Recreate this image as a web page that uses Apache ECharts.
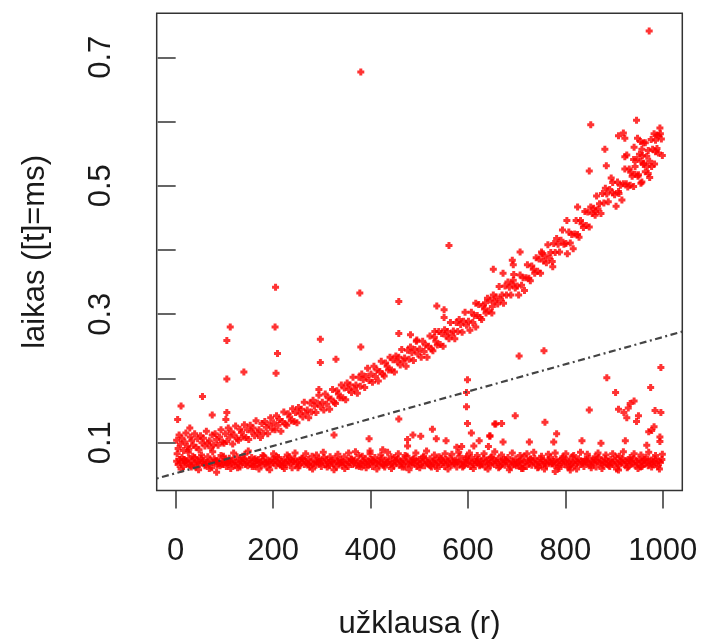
<!DOCTYPE html>
<html>
<head>
<meta charset="utf-8">
<script src="https://cdn.jsdelivr.net/npm/echarts@6/dist/echarts.min.js"></script>
<style>
  html, body { margin: 0; padding: 0; background: #ffffff; }
  #chart { width: 701px; height: 639px; }
</style>
</head>
<body>
<div id="chart"></div>
<script>
// Query number (r) vs. response time (ms)

// Fast queries: flat band near 0.07 ms
const baselinePoints = [
  [2,0.071],[5,0.066],[8,0.074],[10,0.069],[13,0.077],[16,0.063],[19,0.070],[21,0.072],[24,0.067],[27,0.075],
  [30,0.065],[33,0.071],[35,0.079],[38,0.068],[41,0.062],[44,0.073],[46,0.070],[49,0.066],[52,0.076],[55,0.069],
  [57,0.072],[60,0.064],[63,0.070],[66,0.078],[68,0.067],[71,0.073],[74,0.061],[77,0.069],[79,0.075],[82,0.071],
  [85,0.065],[88,0.072],[90,0.068],[93,0.080],[96,0.066],[99,0.070],[101,0.074],[104,0.063],[107,0.069],[110,0.076],
  [112,0.071],[115,0.067],[118,0.073],[121,0.065],[123,0.070],[126,0.078],[129,0.068],[132,0.062],[134,0.072],[137,0.069],
  [140,0.075],[143,0.066],[145,0.071],[148,0.064],[151,0.073],[154,0.068],[156,0.077],[159,0.070],[162,0.063],[165,0.072],
  [167,0.067],[170,0.074],[173,0.069],[176,0.065],[178,0.071],[181,0.079],[184,0.068],[187,0.062],[189,0.073],[192,0.070],
  [195,0.066],[198,0.075],[200,0.069],[203,0.072],[206,0.064],[209,0.070],[211,0.077],[214,0.067],[217,0.071],[220,0.063],
  [222,0.074],[225,0.069],[228,0.066],[231,0.072],[233,0.078],[236,0.068],[239,0.061],[242,0.071],[244,0.075],[247,0.067],
  [250,0.070],[253,0.064],[255,0.073],[258,0.069],[261,0.076],[264,0.066],[266,0.071],[269,0.068],[272,0.074],[275,0.062],
  [277,0.070],[280,0.079],[283,0.067],[286,0.072],[288,0.065],[291,0.070],[294,0.075],[297,0.068],[299,0.063],[302,0.071],
  [305,0.077],[308,0.066],[310,0.073],[313,0.069],[316,0.064],[319,0.072],[321,0.070],[324,0.067],[327,0.076],[330,0.062],
  [332,0.071],[335,0.068],[338,0.074],[341,0.065],[343,0.070],[346,0.078],[349,0.067],[352,0.072],[354,0.063],[357,0.069],
  [360,0.075],[363,0.066],[365,0.071],[368,0.073],[371,0.064],[374,0.070],[376,0.080],[379,0.068],[382,0.062],[385,0.072],
  [387,0.069],[390,0.075],[393,0.066],[396,0.071],[398,0.067],[401,0.074],[404,0.063],[407,0.070],[409,0.077],[412,0.068],
  [415,0.072],[418,0.065],[420,0.070],[423,0.076],[426,0.067],[429,0.062],[431,0.073],[434,0.069],[437,0.071],[440,0.066],
  [442,0.078],[445,0.068],[448,0.064],[451,0.072],[453,0.070],[456,0.075],[459,0.065],[462,0.071],[464,0.068],[467,0.073],
  [470,0.062],[473,0.070],[475,0.079],[478,0.067],[481,0.072],[484,0.065],[486,0.069],[489,0.076],[492,0.068],[495,0.063],
  [497,0.071],[500,0.074],[503,0.066],[506,0.070],[508,0.077],[511,0.064],[514,0.072],[517,0.069],[519,0.067],[522,0.075],
  [525,0.062],[528,0.071],[530,0.068],[533,0.073],[536,0.065],[539,0.070],[541,0.078],[544,0.066],[547,0.072],[550,0.069],
  [552,0.063],[555,0.074],[558,0.070],[561,0.067],[563,0.076],[566,0.065],[569,0.071],[572,0.068],[574,0.073],[577,0.062],
  [580,0.070],[583,0.079],[585,0.067],[588,0.072],[591,0.064],[594,0.069],[596,0.075],[599,0.068],[602,0.071],[605,0.063],
  [607,0.077],[610,0.070],[613,0.066],[616,0.072],[618,0.069],[621,0.074],[624,0.064],[627,0.071],[629,0.067],[632,0.076],
  [635,0.062],[638,0.070],[640,0.073],[643,0.068],[646,0.065],[649,0.078],[651,0.071],[654,0.066],[657,0.072],[660,0.069],
  [662,0.075],[665,0.063],[668,0.070],[671,0.067],[673,0.074],[676,0.065],[679,0.071],[682,0.077],[684,0.068],[687,0.062],
  [690,0.072],[693,0.070],[695,0.066],[698,0.075],[701,0.069],[704,0.064],[706,0.071],[709,0.073],[712,0.067],[715,0.079],
  [717,0.070],[720,0.063],[723,0.072],[726,0.068],[728,0.074],[731,0.065],[734,0.070],[737,0.076],[739,0.067],[742,0.071],
  [745,0.062],[748,0.069],[750,0.075],[753,0.066],[756,0.072],[759,0.068],[761,0.064],[764,0.073],[767,0.070],[770,0.077],
  [772,0.067],[775,0.071],[778,0.065],[781,0.074],[783,0.069],[786,0.063],[789,0.072],[792,0.068],[794,0.076],[797,0.066],
  [800,0.070],[803,0.073],[805,0.062],[808,0.071],[811,0.067],[814,0.078],[816,0.069],[819,0.064],[822,0.072],[825,0.070],
  [827,0.075],[830,0.066],[833,0.071],[836,0.068],[838,0.063],[841,0.074],[844,0.070],[847,0.067],[849,0.076],[852,0.065],
  [855,0.071],[858,0.069],[860,0.073],[863,0.062],[866,0.070],[869,0.077],[871,0.068],[874,0.072],[877,0.065],[880,0.070],
  [882,0.075],[885,0.067],[888,0.071],[891,0.063],[893,0.074],[896,0.069],[899,0.066],[902,0.072],[904,0.078],[907,0.068],
  [910,0.064],[913,0.071],[915,0.070],[918,0.075],[921,0.066],[924,0.072],[926,0.069],[929,0.063],[932,0.073],[935,0.070],
  [937,0.067],[940,0.076],[943,0.065],[946,0.071],[948,0.068],[951,0.074],[954,0.062],[957,0.070],[959,0.072],[962,0.067],
  [965,0.077],[968,0.069],[970,0.064],[973,0.071],[976,0.073],[979,0.066],[981,0.070],[984,0.075],[987,0.068],[990,0.063],
  [992,0.072],[995,0.069],[998,0.074],
  [3,0.083],[11,0.059],[17,0.074],[26,0.085],[32,0.062],[39,0.077],[47,0.058],[53,0.081],[61,0.066],[69,0.060],
  [76,0.086],[83,0.072],[91,0.064],[98,0.079],[106,0.068],[113,0.060],[119,0.084],[127,0.061],[135,0.076],[142,0.082],
  [149,0.087],[157,0.063],[163,0.075],[171,0.059],[179,0.080],[185,0.070],[193,0.058],[201,0.083],[207,0.078],[215,0.065],
  [223,0.060],[229,0.081],[237,0.073],[245,0.084],[251,0.061],[259,0.076],[267,0.083],[273,0.066],[281,0.059],[289,0.081],
  [295,0.071],[303,0.085],[311,0.062],[317,0.078],[325,0.058],[333,0.082],[339,0.069],[347,0.060],[355,0.084],[361,0.074],
  [369,0.086],[377,0.063],[383,0.079],[391,0.061],[399,0.083],[405,0.072],[413,0.059],[421,0.081],[427,0.065],[435,0.085],
  [443,0.060],[449,0.077],[457,0.083],[465,0.062],[471,0.080],[479,0.058],[487,0.074],[493,0.084],[501,0.061],[509,0.079],
  [515,0.087],[523,0.064],[531,0.081],[537,0.060],[545,0.076],[553,0.083],[559,0.059],[567,0.082],[575,0.070],[581,0.085],
  [589,0.062],[597,0.078],[603,0.084],[611,0.060],[619,0.080],[625,0.066],[633,0.083],[641,0.059],[647,0.077],[655,0.086],
  [663,0.061],[669,0.081],[677,0.073],[685,0.058],[691,0.084],[699,0.064],[707,0.080],[713,0.060],[721,0.083],[729,0.075],
  [735,0.085],[743,0.061],[751,0.079],[757,0.059],[765,0.082],[773,0.068],[779,0.084],[787,0.060],[795,0.078],[801,0.083],
  [809,0.062],[817,0.080],[823,0.059],[831,0.085],[839,0.071],[845,0.082],[853,0.061],[861,0.078],[867,0.084],[875,0.060],
  [883,0.081],[889,0.065],[897,0.083],[905,0.059],[911,0.079],[919,0.086],[927,0.061],[933,0.077],[941,0.083],[949,0.060],
  [955,0.081],[963,0.074],[971,0.085],[977,0.062],[985,0.080],[993,0.059],[999,0.082]
];

// Slow queries: time grows with r
const growingPoints = [
  [2,0.104],[5,0.091],[7,0.112],[10,0.098],[13,0.107],[16,0.088],[19,0.101],[21,0.115],[24,0.094],[27,0.090],
  [30,0.109],[33,0.103],[36,0.096],[39,0.114],[42,0.093],[45,0.106],[48,0.089],[51,0.111],[54,0.100],[57,0.107],
  [60,0.095],[63,0.118],[66,0.099],[69,0.103],[72,0.092],[75,0.112],[78,0.097],[81,0.114],[84,0.105],[87,0.096],
  [90,0.109],[93,0.120],[96,0.101],[99,0.099],
  [102,0.114],[105,0.102],[108,0.123],[111,0.109],[114,0.117],[117,0.098],[120,0.112],[123,0.126],[126,0.106],[129,0.104],
  [132,0.121],[135,0.116],[138,0.109],[141,0.128],[144,0.108],[147,0.120],[150,0.105],[153,0.127],[156,0.117],[159,0.123],
  [162,0.111],[165,0.134],[168,0.115],[171,0.120],[174,0.108],[177,0.130],[180,0.115],[183,0.133],[186,0.124],[189,0.114],
  [192,0.128],[195,0.139],[198,0.121],
  [201,0.131],[204,0.120],[207,0.142],[210,0.127],[213,0.136],[216,0.118],[219,0.133],[222,0.148],[225,0.129],[228,0.127],
  [231,0.145],[234,0.140],[237,0.134],[240,0.153],[243,0.133],[246,0.147],[249,0.131],[252,0.155],[255,0.145],[258,0.152],
  [261,0.140],[264,0.163],[267,0.146],[270,0.151],[273,0.139],[276,0.162],[279,0.148],[282,0.166],[285,0.157],[288,0.147],
  [291,0.162],[294,0.174],[297,0.156],
  [301,0.163],[304,0.151],[307,0.176],[310,0.160],[313,0.170],[316,0.152],[319,0.168],[322,0.183],[325,0.163],[328,0.161],
  [331,0.181],[334,0.176],[337,0.170],[340,0.190],[343,0.170],[346,0.185],[349,0.167],[352,0.193],[355,0.183],[358,0.190],
  [361,0.178],[364,0.202],[367,0.184],[370,0.190],[373,0.177],[376,0.202],[379,0.188],[382,0.207],[385,0.198],[388,0.186],
  [391,0.203],[394,0.216],[397,0.197],
  [401,0.207],[404,0.194],[407,0.219],[410,0.203],[413,0.213],[416,0.196],[419,0.211],[422,0.227],[425,0.207],[428,0.204],
  [431,0.224],[434,0.219],[437,0.213],[440,0.233],[443,0.213],[446,0.229],[449,0.210],[452,0.235],[455,0.226],[458,0.233],
  [461,0.221],[464,0.245],[467,0.227],[470,0.232],[473,0.219],[476,0.244],[479,0.230],[482,0.249],[485,0.240],[488,0.228],
  [491,0.245],[494,0.258],[497,0.238],
  [501,0.246],[504,0.233],[507,0.258],[510,0.242],[513,0.252],[516,0.233],[519,0.250],[522,0.266],[525,0.246],[528,0.243],
  [531,0.264],[534,0.258],[537,0.252],[540,0.273],[543,0.253],[546,0.270],[549,0.250],[552,0.276],[555,0.266],[558,0.273],
  [561,0.262],[564,0.287],[567,0.268],[570,0.274],[573,0.262],[576,0.287],[579,0.273],[582,0.292],[585,0.284],[588,0.272],
  [591,0.289],[594,0.303],[597,0.283],
  [601,0.289],[604,0.275],[607,0.303],[610,0.287],[613,0.298],[616,0.280],[619,0.298],[622,0.315],[625,0.295],[628,0.292],
  [631,0.313],[634,0.308],[637,0.302],[640,0.325],[643,0.305],[646,0.322],[649,0.302],[652,0.330],[655,0.320],[658,0.327],
  [661,0.316],[664,0.343],[667,0.323],[670,0.330],[673,0.317],[676,0.344],[679,0.330],[682,0.350],[685,0.342],[688,0.330],
  [691,0.347],[694,0.362],[697,0.341],
  [701,0.344],[704,0.330],[707,0.361],[710,0.345],[713,0.357],[716,0.337],[719,0.357],[722,0.377],[725,0.356],[728,0.352],
  [731,0.375],[734,0.370],[737,0.364],[740,0.388],[743,0.367],[746,0.386],[749,0.364],[752,0.394],[755,0.383],[758,0.391],
  [761,0.380],[764,0.408],[767,0.388],[770,0.396],[773,0.382],[776,0.410],[779,0.396],[782,0.418],[785,0.409],[788,0.397],
  [791,0.415],[794,0.431],[797,0.409],
  [801,0.410],[804,0.394],[807,0.428],[810,0.411],[813,0.424],[816,0.402],[819,0.425],[822,0.446],[825,0.424],[828,0.420],
  [831,0.446],[834,0.441],[837,0.435],[840,0.460],[843,0.438],[846,0.459],[849,0.436],[852,0.467],[855,0.457],[858,0.465],
  [861,0.454],[864,0.484],[867,0.464],[870,0.472],[873,0.457],[876,0.488],[879,0.473],[882,0.496],[885,0.487],[888,0.475],
  [891,0.494],[894,0.512],[897,0.489],
  [901,0.486],[904,0.468],[907,0.506],[910,0.488],[913,0.501],[916,0.478],[919,0.503],[922,0.526],[925,0.503],[928,0.498],
  [931,0.526],[934,0.521],[937,0.515],[940,0.541],[943,0.518],[946,0.541],[949,0.515],[952,0.549],[955,0.538],[958,0.547],
  [961,0.535],[964,0.567],[967,0.546],[970,0.555],[973,0.538],[976,0.572],[979,0.557],[982,0.581],[985,0.571],[988,0.558],
  [991,0.578],[994,0.590],[997,0.573]
];

// Scattered queries off both bands
const scatteredPoints = [
  [380,0.677],[972,0.741],[378,0.333],[205,0.342],[561,0.407],[458,0.320],[536,0.313],[551,0.307],[551,0.295],
  [616,0.317],[636,0.318],[650,0.312],
  [112,0.280],[105,0.259],[204,0.280],[209,0.239],[206,0.208],[297,0.261],[297,0.225],[294,0.183],[105,0.199],
  [140,0.210],[55,0.172],[11,0.157],[4,0.136],[29,0.123],[75,0.143],[105,0.147],[103,0.136],[84,0.054],
  [380,0.249],[329,0.230],[458,0.270],[482,0.268],[495,0.260],[532,0.273],
  [458,0.137],[325,0.112],[397,0.106],[599,0.198],[597,0.178],[597,0.156],[599,0.130],[607,0.115],[527,0.121],
  [535,0.106],[555,0.103],[476,0.105],[476,0.095],[487,0.112],[503,0.110],[399,0.087],[425,0.089],[577,0.093],
  [587,0.094],[612,0.095],[645,0.110],[657,0.129],[642,0.094],[623,0.103],
  [652,0.370],[672,0.364],[691,0.384],[693,0.377],[707,0.397],[751,0.397],[774,0.374],[693,0.353],
  [705,0.235],[756,0.243],[885,0.201],[903,0.178],[909,0.152],[933,0.161],[941,0.165],[929,0.154],[950,0.142],
  [975,0.186],[996,0.217],[984,0.150],[996,0.147],[926,0.139],[946,0.133],[920,0.147],[849,0.151],[697,0.142],
  [758,0.132],[655,0.129],[669,0.130],[782,0.114],[726,0.101],[834,0.103],[776,0.101],[873,0.099],[923,0.103],
  [645,0.111],[672,0.101],[971,0.117],[982,0.125],[977,0.119],[994,0.109],[994,0.102],[967,0.096],[779,0.055],
  [710,0.060],[810,0.0575],[909,0.0575],[957,0.063],
  [852,0.595],[946,0.602],[919,0.582],[909,0.578],[922,0.574],[948,0.574],[954,0.569],[960,0.567],[941,0.560],
  [957,0.557],[988,0.579],[995,0.581],[985,0.553],[991,0.551],[999,0.547],[881,0.557],[926,0.548],[922,0.545],
  [884,0.531],[849,0.523],[943,0.530],[960,0.533],[968,0.530],[983,0.534],[977,0.530],[964,0.522],[970,0.519],
  [973,0.513],[950,0.517],[897,0.505],[933,0.501],[940,0.499],[957,0.506],[955,0.504],[909,0.491],[825,0.467],
  [862,0.460],[803,0.446]
];

// Linear fit of time on r
const fitIntercept = 0.0525;
const fitSlope = 0.000212;

// Axis ranges and ticks
const xRange = [-38.96, 1039.96];
const yRange = [0.0256, 0.7685];
const xTicks = [0, 200, 400, 600, 800, 1000];
const yTicks = [0.1, 0.2, 0.3, 0.4, 0.5, 0.6, 0.7];
const yTickLabels = [0.1, 0.3, 0.5, 0.7];

const fitLine = xRange.map(x => [x, fitIntercept + fitSlope * x]);

// "+" marker with heavy arms
const plusSymbol = 'path://M2,0H5V2H7V5H5V7H2V5H0V2H2Z';
const FONT = '"Liberation Sans", Arial, Helvetica, sans-serif';
const INK = '#1a1a1a';

const pointSeries = data => ({
  type: 'scatter',
  data: data,
  symbol: plusSymbol,
  symbolSize: 7,
  itemStyle: { color: '#ff0000' },
  silent: true
});

const chart = echarts.init(document.getElementById('chart'), null, { renderer: 'canvas' });
chart.setOption({
  animation: false,
  backgroundColor: '#ffffff',
  grid: {
    left: 156.7, right: 18.7, top: 13.3, bottom: 148.5,
    containLabel: false,
    outerBoundsMode: 'none',
    show: true, borderColor: '#333333', borderWidth: 1.5, backgroundColor: 'transparent'
  },
  xAxis: {
    type: 'value',
    min: xRange[0], max: xRange[1],
    name: 'užklausa (r)',
    nameLocation: 'middle',
    nameGap: 118,
    nameTextStyle: { fontFamily: FONT, fontSize: 31, color: INK },
    axisLine: { show: false },
    splitLine: { show: false },
    axisTick: { show: true, length: 18, customValues: xTicks, lineStyle: { color: '#333333', width: 1.5 } },
    axisLabel: { customValues: xTicks, margin: 45, fontFamily: FONT, fontSize: 31, color: INK,
      formatter: v => String(v) }
  },
  yAxis: {
    type: 'value',
    min: yRange[0], max: yRange[1],
    name: 'laikas ([t]=ms)',
    nameLocation: 'middle',
    nameGap: 106,
    nameTextStyle: { fontFamily: FONT, fontSize: 31, color: INK },
    axisLine: { show: false },
    splitLine: { show: false },
    axisTick: { show: true, length: 18, customValues: yTicks, lineStyle: { color: '#333333', width: 1.5 } },
    axisLabel: { customValues: yTickLabels, rotate: 90, margin: 40, fontFamily: FONT, fontSize: 31, color: INK,
      formatter: v => v.toFixed(1) }
  },
  series: [
    pointSeries(baselinePoints),
    pointSeries(growingPoints),
    pointSeries(scatteredPoints),
    {
      type: 'line',
      data: fitLine,
      symbol: 'none',
      silent: true,
      z: 5,
      lineStyle: { color: '#444444', width: 2.2, type: [2, 3.5, 7, 3.5] }
    }
  ]
});
</script>
</body>
</html>
